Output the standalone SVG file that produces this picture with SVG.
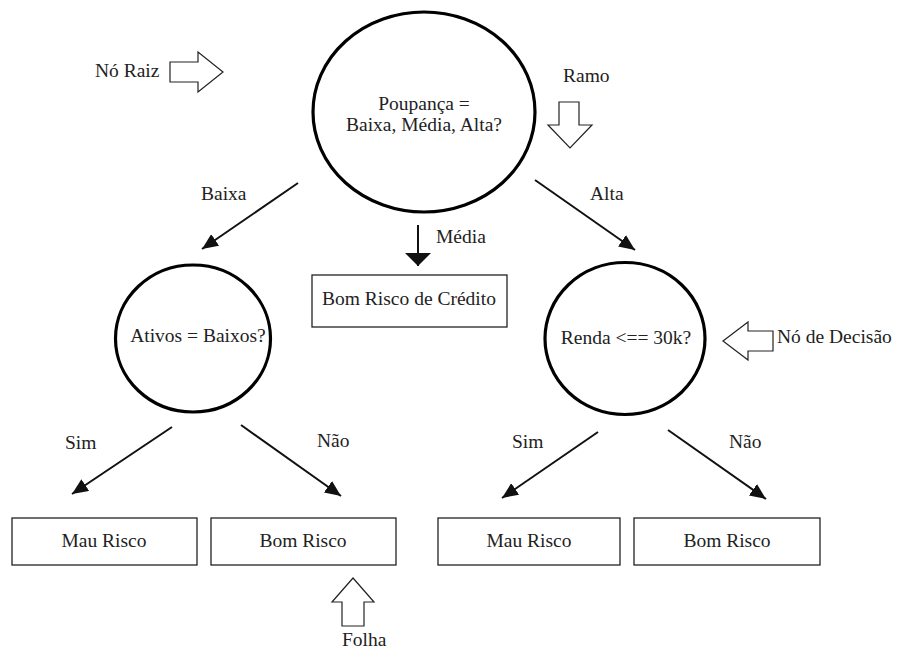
<svg xmlns="http://www.w3.org/2000/svg" width="904" height="652" viewBox="0 0 904 652">
<style>
text{font-family:"Liberation Serif","Times New Roman",serif;font-size:19.5px;fill:#222;}
.c{text-anchor:middle;}
.node{fill:#fff;stroke:#000;stroke-width:3.2;}
.box{fill:#fff;stroke:#222;stroke-width:1.3;}
.edge{stroke:#111;stroke-width:2;fill:none;}
.blk{fill:#fff;stroke:#222;stroke-width:1.2;stroke-linejoin:miter;}
</style>
<defs>
<marker id="ah" markerUnits="userSpaceOnUse" viewBox="0 0 16 14" refX="16" refY="7" markerWidth="16" markerHeight="14" orient="auto">
<path d="M0,0 L16,7 L0,14 Z" fill="#111"/>
</marker>
<marker id="ahm" markerUnits="userSpaceOnUse" viewBox="0 0 13 26" refX="13" refY="13" markerWidth="13" markerHeight="26" orient="auto">
<path d="M0,0 L13,13 L0,26 Z" fill="#111"/>
</marker>
</defs>
<rect width="904" height="652" fill="#fff"/>
<g id="connectors">
<line class="edge" x1="298" y1="183" x2="202" y2="249" marker-end="url(#ah)"/>
<line class="edge" x1="418" y1="225" x2="418" y2="266" marker-end="url(#ahm)"/>
<line class="edge" x1="535" y1="180" x2="635" y2="250" marker-end="url(#ah)"/>
<line class="edge" x1="172" y1="427" x2="72" y2="494" marker-end="url(#ah)"/>
<line class="edge" x1="241" y1="425" x2="341" y2="496" marker-end="url(#ah)"/>
<line class="edge" x1="598" y1="432" x2="502" y2="498" marker-end="url(#ah)"/>
<line class="edge" x1="668" y1="430" x2="766" y2="499" marker-end="url(#ah)"/>
<text x="201" y="200">Baixa</text>
<text x="436" y="243">Média</text>
<text x="590" y="200">Alta</text>
<text x="65" y="449">Sim</text>
<text x="317" y="447">Não</text>
<text x="512" y="448">Sim</text>
<text x="729" y="448">Não</text>
</g>
<g id="root">
<ellipse class="node" cx="424" cy="112" rx="111" ry="100"/>
<text class="c" x="424" y="110">Poupança =</text>
<text class="c" x="424" y="131">Baixa, Média, Alta?</text>
</g>
<g id="ativos">
<ellipse class="node" cx="193" cy="338.5" rx="77.5" ry="73.5"/>
<text class="c" x="198" y="342">Ativos = Baixos?</text>
</g>
<g id="renda">
<ellipse class="node" cx="625" cy="338.5" rx="80" ry="76"/>
<text class="c" x="626" y="344">Renda &lt;== 30k?</text>
</g>
<g id="bom-credito">
<rect class="box" x="312" y="275" width="195" height="52"/>
<text class="c" x="409" y="305">Bom Risco de Crédito</text>
</g>
<g id="mau1">
<rect class="box" x="12" y="518" width="185" height="47"/>
<text class="c" x="104" y="547">Mau Risco</text>
</g>
<g id="bom1">
<rect class="box" x="211" y="518" width="185" height="47"/>
<text class="c" x="303" y="547">Bom Risco</text>
</g>
<g id="mau2">
<rect class="box" x="438" y="518" width="182" height="47"/>
<text class="c" x="529" y="547">Mau Risco</text>
</g>
<g id="bom2">
<rect class="box" x="634" y="518" width="186" height="47"/>
<text class="c" x="727" y="547">Bom Risco</text>
</g>
<g id="label-no-raiz">
<text x="95" y="77">Nó Raiz</text>
<polygon class="blk" points="170,62 198,62 198,52 223,72 198,92 198,82 170,82"/>
</g>
<g id="label-ramo">
<text x="563" y="82">Ramo</text>
<polygon class="blk" points="559,102 579,102 579,125 592,125 570,148 548,125 559,125"/>
</g>
<g id="label-decisao">
<polygon class="blk" points="723,341 748,322 748,331 773,331 773,351 748,351 748,360"/>
<text x="777" y="343">Nó de Decisão</text>
</g>
<g id="label-folha">
<polygon class="blk" points="353,578 374,602 364,602 364,626 342,626 342,602 332,602"/>
<text x="342" y="646">Folha</text>
</g>
</svg>
